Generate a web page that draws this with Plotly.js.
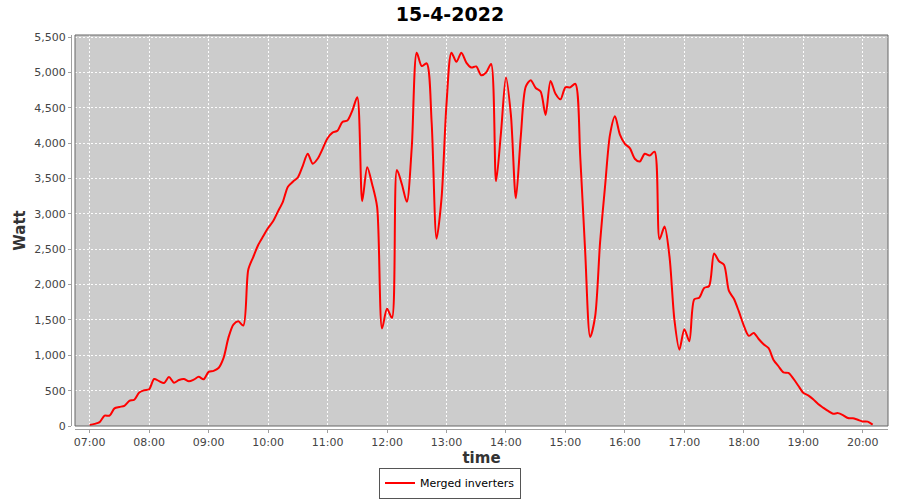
<!DOCTYPE html>
<html>
<head>
<meta charset="utf-8">
<script src="https://cdn.plot.ly/plotly-3.0.1.min.js"></script>
<style>
  html, body { margin: 0; padding: 0; background: #ffffff; }
  #chart { width: 900px; height: 500px; }
</style>
</head>
<body>
<div id="chart"></div>
<script>
// Chart data (5-minute samples on 15-4-2022)
const chartTitle = "15-4-2022";
const seriesName = "Merged inverters";
const startTime = "2022-04-15 07:00";
const stepMinutes = 5;
const watt = [
  15, 30, 55, 146, 146, 250, 270, 285, 355, 372,
  475, 505, 520, 665, 635, 608, 693, 612, 650, 665,
  632, 655, 695, 660, 765, 780, 820, 960, 1250, 1435,
  1480, 1420, 2210, 2390, 2560, 2683, 2800, 2895, 3035, 3175,
  3385, 3455, 3515, 3680, 3850, 3710, 3780, 3920, 4070, 4150,
  4175, 4300, 4320, 4460, 4650, 3180, 3660, 3420, 3100, 1380,
  1660, 1530, 3620, 3420, 3170, 3950, 5280, 5090, 5130, 4300,
  2650, 3220, 4550, 5280, 5150, 5280, 5140, 5070, 5085, 4960,
  5000, 5120, 3460, 4150, 4930, 4400, 3220, 4100, 4800, 4890,
  4780, 4730, 4400, 4880, 4700, 4620, 4790, 4790, 4840, 3800,
  2450, 1260, 1550, 2600, 3390, 4120, 4380, 4120, 3990, 3930,
  3780, 3740, 3850, 3825, 3880, 2640, 2820, 2400, 1500, 1080,
  1370, 1200, 1790, 1815, 1953, 1980, 2440, 2330, 2280, 1910,
  1800, 1620, 1420, 1275, 1316, 1230, 1155, 1100, 935, 845,
  759, 750, 670, 570, 470, 432, 378, 310, 260, 213,
  174, 182, 155, 113, 110, 88, 65, 62, 20
];
const xRange = ["2022-04-15 06:45:10", "2022-04-15 20:25:30"];
const yRange = [0, 5530];
const yTickStep = 500;
const xTitle = "time";
const yTitle = "Watt";

// Build timestamps from start time and step
function pad(n) { return (n < 10 ? "0" : "") + n; }
const base = new Date(2022, 3, 15, 7, 0, 0);
const times = watt.map((_, i) => {
  const d = new Date(base.getTime() + i * stepMinutes * 60000);
  return "2022-04-15 " + pad(d.getHours()) + ":" + pad(d.getMinutes()) + ":00";
});

const font = "DejaVu Sans, Verdana, sans-serif";

const trace = {
  x: times,
  y: watt,
  type: "scatter",
  mode: "lines",
  name: seriesName,
  line: { color: "#ff0000", width: 2, shape: "spline", smoothing: 0.8 },
  showlegend: true
};

const layout = {
  width: 900,
  height: 500,
  paper_bgcolor: "#ffffff",
  plot_bgcolor: "#cccccc",
  margin: { l: 71, r: 12, t: 35, b: 71, pad: 0 },
  title: {
    text: "<b>" + chartTitle + "</b>",
    font: { family: font, size: 19, color: "#000000" },
    x: 0.5, xref: "container", xanchor: "center",
    y: 0.972, yref: "container", yanchor: "middle"
  },
  showlegend: true,
  legend: {
    orientation: "h",
    xref: "container", yref: "container",
    x: 0.5, xanchor: "center",
    y: 0.003, yanchor: "bottom",
    bordercolor: "#555555", borderwidth: 1,
    bgcolor: "#ffffff",
    font: { family: font, size: 11, color: "#000000" },
    itemwidth: 30,
    tracegroupgap: 0
  },
  xaxis: {
    type: "date",
    range: xRange,
    domain: [4 / 817, 1],
    anchor: "free",
    position: 0,
    tickformat: "%H:%M",
    dtick: 3600000,
    tick0: "2022-04-15 07:00",
    ticks: "outside",
    ticklen: 3,
    tickcolor: "#a0a0a0",
    tickfont: { family: font, size: 11, color: "#444444" },
    showline: true,
    linecolor: "#a0a0a0",
    linewidth: 1,
    showgrid: true,
    gridcolor: "rgba(255,255,255,0.95)",
    griddash: "2px,2px",
    gridwidth: 1,
    zeroline: false,
    title: {
      text: "<b>" + xTitle + "</b>",
      font: { family: font, size: 15, color: "#333333" },
      standoff: 7
    }
  },
  yaxis: {
    range: yRange,
    domain: [3 / 394, 1],
    anchor: "free",
    position: 0,
    dtick: yTickStep,
    tick0: 0,
    tickformat: ",d",
    ticks: "outside",
    ticklen: 3,
    tickcolor: "#a0a0a0",
    tickfont: { family: font, size: 11, color: "#444444" },
    showline: true,
    linecolor: "#a0a0a0",
    linewidth: 1,
    showgrid: true,
    gridcolor: "rgba(255,255,255,0.95)",
    griddash: "2px,2px",
    gridwidth: 1,
    zeroline: false,
    title: {
      text: "<b>" + yTitle + "</b>",
      font: { family: font, size: 15, color: "#333333" },
      standoff: 4
    }
  },
  shapes: [
    {
      type: "rect", xref: "x domain", yref: "y domain",
      x0: 0, x1: 1, y0: 0, y1: 1,
      line: { color: "#666666", width: 1 },
      fillcolor: "rgba(0,0,0,0)",
      layer: "above"
    }
  ]
};

Plotly.newPlot("chart", [trace], layout, { displayModeBar: false, staticPlot: true });
</script>
</body>
</html>
